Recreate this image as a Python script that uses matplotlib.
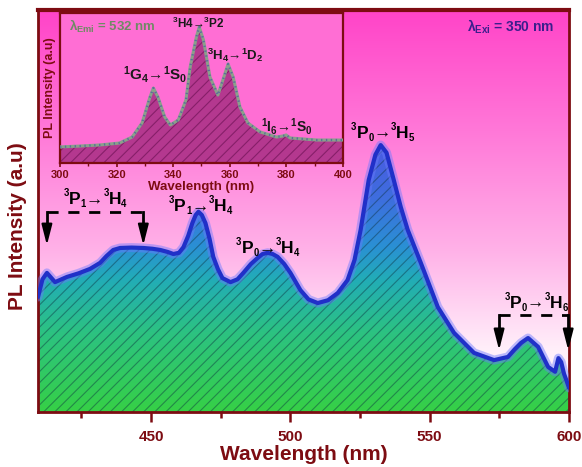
import numpy as np
import matplotlib
matplotlib.use("Agg")
import matplotlib.pyplot as plt
from matplotlib.colors import LinearSegmentedColormap
from matplotlib.patches import PathPatch
from matplotlib.path import Path
from matplotlib.transforms import offset_copy

plt.rcParams['font.family'] = ['Liberation Sans', 'DejaVu Sans']
plt.rcParams['mathtext.fontset'] = 'custom'
plt.rcParams['mathtext.rm'] = 'Liberation Sans:bold'
plt.rcParams['mathtext.it'] = 'Liberation Sans:bold'
plt.rcParams['mathtext.bf'] = 'Liberation Sans:bold'
plt.rcParams['hatch.linewidth'] = 0.8

# ---- emission spectrum (excitation 350 nm) ----
em_wavelength = [409.4, 411.0, 412.6, 414.0, 415.5, 419.8, 424.0, 428.1, 431.7, 434.0,
                 436.4, 438.9, 443.0, 447.2, 450.5, 453.3, 456.0, 458.0, 460.0, 461.6,
                 463.3, 464.8, 466.0, 467.0, 468.2, 469.5, 471.0, 472.3, 474.0, 475.6,
                 478.5, 481.0, 483.1, 485.8, 488.2, 490.0, 491.8, 493.6, 495.4, 497.8,
                 500.0, 503.6, 506.5, 509.8, 513.5, 517.0, 520.5, 523.0, 525.2, 528.1,
                 530.5, 532.4, 534.5, 537.1, 539.6, 542.1, 546.8, 552.9, 558.7, 565.9,
                 573.1, 578.1, 580.5, 582.8, 585.3, 588.9, 592.5, 595.0, 596.2, 597.2,
                 598.2, 599.0, 600.0]
em_intensity = [28.6, 33.0, 34.6, 33.5, 32.3, 33.6, 34.5, 35.6, 37.1, 38.8,
                40.3, 40.8, 40.9, 40.8, 40.6, 40.3, 39.8, 39.3, 39.6, 41.0,
                43.8, 47.0, 49.0, 49.8, 49.0, 47.0, 43.0, 38.6, 35.5, 33.3,
                32.3, 33.0, 34.6, 36.8, 38.3, 39.3, 39.6, 39.3, 38.6, 36.8,
                34.6, 30.3, 28.0, 27.1, 27.8, 29.6, 32.8, 37.8, 45.3, 57.7,
                64.0, 66.4, 64.5, 57.7, 51.0, 45.3, 37.1, 26.1, 19.7, 14.7,
                12.9, 13.7, 15.6, 17.2, 18.4, 16.2, 11.2, 10.0, 13.4, 12.4,
                9.5, 8.0, 6.0]

# ---- excitation spectrum (emission 532 nm) ----
ex_wavelength = [300.0, 307.0, 314.0, 321.0, 325.5, 329.0, 331.8, 333.0, 334.6, 337.0,
                 339.0, 341.8, 344.5, 346.0, 348.2, 349.2, 350.7, 353.0, 355.8, 357.9,
                 359.4, 361.2, 363.6, 366.4, 370.7, 376.5, 378.8, 379.9, 381.3, 390.8,
                 400.0]
ex_intensity = [10.7, 11.3, 12.0, 13.3, 17.3, 26.7, 44.0, 50.0, 44.0, 30.7,
                25.3, 28.7, 42.0, 64.0, 84.0, 90.7, 82.0, 57.3, 45.3, 57.3,
                66.0, 57.3, 37.3, 26.7, 20.7, 17.3, 18.0, 18.7, 16.7, 15.3,
                15.3]

main_ticks = [450, 500, 550, 600]
inset_ticks = [300, 320, 340, 360, 380, 400]

DARK_RED = '#7d0c12'

fig = plt.figure(figsize=(5.82, 4.67), dpi=100)
ax = fig.add_axes([0.0653, 0.1178, 0.9124, 0.8608])
renderer = fig.canvas.get_renderer()

xlo, xhi = 409.4, 600.0
ylo, yhi = 0.0, 100.0

# background gradient: white at the bottom to magenta at the top
bg_cmap = LinearSegmentedColormap.from_list(
    'bg', [(0.0, '#ffffff'), (0.15, '#fff0fa'), (0.4, '#ffb2e8'),
           (0.7, '#ff78d8'), (1.0, '#ff44c8')])
grad = np.linspace(0, 1, 256).reshape(-1, 1)
ax.imshow(grad, extent=[xlo, xhi, ylo, yhi], origin='lower', aspect='auto',
          cmap=bg_cmap, zorder=0, interpolation='bicubic')

# gradient fill under the emission curve
fill_cmap = LinearSegmentedColormap.from_list(
    'fill', [(0.0, '#36d046'), (0.3, '#2cc282'), (0.5, '#22acb8'),
           (0.62, '#2a90d4'), (0.8, '#3e6ede'), (1.0, '#4a5ae2')])
verts = [(em_wavelength[0], 0)] + list(zip(em_wavelength, em_intensity)) + [(em_wavelength[-1], 0)]
clip = PathPatch(Path(verts, closed=False), transform=ax.transData,
                 facecolor='none', edgecolor='none')
ax.add_patch(clip)
fg = ax.imshow(grad, extent=[xlo, xhi, 0, max(em_intensity)], origin='lower',
               aspect='auto', cmap=fill_cmap, zorder=1, interpolation='bicubic')
fg.set_clip_path(clip)
ax.fill_between(em_wavelength, em_intensity, 0, facecolor='none',
                edgecolor=(0.05, 0.2, 0.25, 0.45), hatch='///', lw=0, zorder=2)

# emission curve with a soft glow
ax.plot(em_wavelength, em_intensity, color='#6a78ff', lw=6.5, alpha=0.45,
        solid_joinstyle='round', solid_capstyle='round', zorder=3)
ax.plot(em_wavelength, em_intensity, color='#2030c8', lw=3.0,
        solid_joinstyle='round', solid_capstyle='round', zorder=4)

ax.set_xlim(xlo, xhi)
ax.set_ylim(ylo, yhi)
ax.set_yticks([])
ax.set_xticks(main_ticks)
ax.set_xticks([425, 475, 525, 575], minor=True)
ax.tick_params(axis='x', which='major', direction='out', length=7, width=1.8,
               color=DARK_RED, labelcolor=DARK_RED, labelsize=11, pad=6)
ax.tick_params(axis='x', which='minor', direction='out', length=4, width=1.8,
               color=DARK_RED)
for lab in ax.get_xticklabels():
    lab.set_fontweight('bold')
for side, sp in ax.spines.items():
    sp.set_color(DARK_RED)
    sp.set_linewidth(2.0)
ax.spines['top'].set_linewidth(3.0)
ax.set_xlabel('Wavelength (nm)', fontsize=15, fontweight='bold', color=DARK_RED, labelpad=1)
ax.set_ylabel('PL Intensity (a.u)', fontsize=15, fontweight='bold', color=DARK_RED)
ax.yaxis.set_label_coords(-0.020, 0.463)

ax.text(0.891, 0.958, r'$\lambda_{\mathrm{Exi}}$ = 350 nm', transform=ax.transAxes,
        ha='center', va='center', fontsize=10, fontweight='bold', color='#3b1e8c', zorder=6)


def term_label(x, y, parts, size=12.5, color='black'):
    """Draw a transition label from (text, kind) pieces; kind is n / sup / sub."""
    small = size * 0.55
    sizes, widths = [], []
    for s, kind in parts:
        fs = size if kind == 'n' else small
        t = ax.text(0, 0, s, fontsize=fs, fontweight='bold')
        widths.append(t.get_window_extent(renderer).width * 72.0 / fig.dpi)
        sizes.append(fs)
        t.remove()
    dx = -sum(widths) / 2.0
    base = -size * 0.36
    for (s, kind), fs, w in zip(parts, sizes, widths):
        dy = base + {'n': 0.0, 'sup': size * 0.48, 'sub': -size * 0.16}[kind]
        tr = offset_copy(ax.transData, fig=fig, x=dx, y=dy, units='points')
        ax.text(x, y, s, transform=tr, fontsize=fs, fontweight='bold', color=color,
                ha='left', va='baseline', zorder=6)
        dx += w


def term(a, la, sa, b, lb, sb):
    return [(a, 'sup'), (la, 'n'), (sa, 'sub'), ('→', 'n'), (b, 'sup'), (lb, 'n'), (sb, 'sub')]


term_label(429.9, 53.2, term('3', 'P', '1', '3', 'H', '4'))
term_label(467.7, 51.5, term('3', 'P', '1', '3', 'H', '4'))
term_label(491.8, 41.0, term('3', 'P', '0', '3', 'H', '4'))
term_label(533.1, 69.7, term('3', 'P', '0', '3', 'H', '5'))
term_label(588.2, 27.4, term('3', 'P', '0', '3', 'H', '6'))


def bracket(x0, x1, ytop, ybase, ytip):
    ax.plot([x0, x1], [ytop, ytop], color='black', lw=2.0, ls=(0, (4, 3.5)),
            zorder=6, clip_on=False)
    for xx in (x0, x1):
        ax.plot([xx, xx], [ytop, ybase], color='black', lw=2.0, zorder=6, clip_on=False)
        ax.annotate('', xy=(xx, ytip), xytext=(xx, ybase),
                    arrowprops=dict(arrowstyle='-|>,head_length=1.25,head_width=0.32',
                                    color='black', lw=1.5, mutation_scale=10,
                                    shrinkA=0, shrinkB=0),
                    zorder=6, annotation_clip=False)


bracket(412.6, 447.2, 49.75, 46.0, 41.5)
bracket(574.9, 599.7, 24.1, 19.6, 15.4)

# ---- inset: excitation spectrum ----
ins = fig.add_axes([0.1031, 0.651, 0.4862, 0.3212])
ins.set_facecolor('#ff6ed4')
ins.fill_between(ex_wavelength, ex_intensity, 0, facecolor='#b4388f',
                 edgecolor=(0.45, 0.08, 0.35, 0.7), hatch='///', lw=0, zorder=2)
ins.plot(ex_wavelength, ex_intensity, color='#8aa08a', lw=2.2, zorder=3,
         solid_joinstyle='round')
ins.plot(ex_wavelength, ex_intensity, color='#5a6c9c', lw=1.6,
         ls=(0, (0.6, 1.6)), zorder=4)
ins.set_xlim(300, 400)
ins.set_ylim(0, 100)
ins.set_yticks([])
ins.set_xticks(inset_ticks)
ins.set_xticks([310, 330, 350, 370, 390], minor=True)
ins.tick_params(axis='x', which='major', direction='out', length=3, width=1.2,
                color=DARK_RED, labelcolor=DARK_RED, labelsize=8, pad=2)
ins.tick_params(axis='x', which='minor', direction='out', length=2, width=1.0,
                color=DARK_RED)
for lab in ins.get_xticklabels():
    lab.set_fontweight('bold')
for sp in ins.spines.values():
    sp.set_color(DARK_RED)
    sp.set_linewidth(1.6)
ins.set_xlabel('Wavelength (nm)', fontsize=9.5, fontweight='bold', color=DARK_RED, labelpad=1)
ins.set_ylabel('PL Intensity (a.u)', fontsize=9, fontweight='bold', color=DARK_RED, labelpad=3)

ins.text(318.4, 90.7, r'$\lambda_{\mathrm{Emi}}$ = 532 nm', ha='center', va='center',
         fontsize=9.5, fontweight='bold', color='#6f8a64')
ins.text(348.8, 93.3, r'$^3$H4→$^3$P2', ha='center', va='center', fontsize=8.5,
         fontweight='bold', color='#1a1a1a')
ins.text(361.8, 72.0, r'$^3$H$_4$→$^1$D$_2$', ha='center', va='center', fontsize=9.5,
         fontweight='bold', color='#1a1a1a')
ins.text(333.6, 58.7, r'$^1$G$_4$→$^1$S$_0$', ha='center', va='center', fontsize=11,
         fontweight='bold', color='#1a1a1a')
ins.text(380.2, 24.0, r'$^1$I$_6$→$^1$S$_0$', ha='center', va='center', fontsize=10,
         fontweight='bold', color='#1a1a1a')

fig.savefig('out.png', dpi=100)
